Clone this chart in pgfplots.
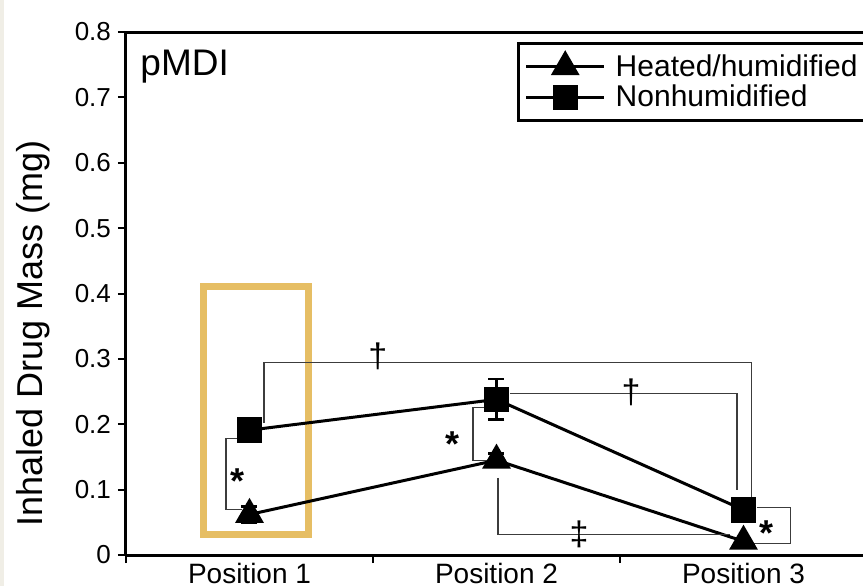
\documentclass[border=0pt]{standalone}
\usepackage{pgfplots}
\pgfplotsset{compat=1.18}
\usepackage{fontspec}
\setmainfont{Liberation Sans}

\definecolor{boxyellow}{RGB}{230,190,100}
\definecolor{annot}{RGB}{60,60,60}
\definecolor{strip}{RGB}{240,238,230}

\begin{document}
\begin{tikzpicture}
\begin{axis}[
  name=ax,
  scale only axis,
  width=370.5pt, height=261.5pt,
  xmin=0.5, xmax=3.5, ymin=0, ymax=0.8,
  axis x line=bottom, axis y line=left,
  axis line style={line width=1.5pt,-},
  clip=false,
  xtick={0.5,1.5,2.5,3.5},
  xticklabels={Position 1,Position 2,Position 3},
  x tick label as interval,
  ytick={0,0.1,0.2,0.3,0.4,0.5,0.6,0.7,0.8},
  yticklabel style={/pgf/number format/fixed,/pgf/number format/precision=1},
  /pgf/number format/assume math mode=true,
  tick align=outside,
  major tick length=4pt,
  tick style={line width=1pt,black},
  ticklabel style={font=\fontsize{13}{15}\selectfont},
  xticklabel style={font=\fontsize{14}{16}\selectfont,yshift=3.5pt},
  ylabel={Inhaled Drug Mass (mg)},
  ylabel style={at={(axis description cs:-0.125,0.424)},anchor=center,
    font=\fontsize{18}{20}\selectfont},
  legend style={at={(rel axis cs:0.528,0.981)},anchor=north west,
    draw=black,line width=1.5pt,font=\fontsize{15}{16}\selectfont,
    inner xsep=3pt,inner ysep=3.5pt,row sep=-1pt},
  legend cell align=left,
  legend image code/.code={
    \draw[mark repeat=2,mark phase=2,#1] plot coordinates {(0pt,0pt) (19.5pt,0pt) (39pt,0pt)};},
]

% highlight box
\draw[boxyellow,line width=3.5pt] (axis cs:0.814,0.031) rectangle (axis cs:1.239,0.411);

\addplot[black,line width=1.5pt,mark=triangle*,mark size=6.8pt,mark options={solid},
  error bars/.cd,y dir=both,y explicit,
  error bar style={line width=1.2pt},
  error mark options={rotate=90,mark size=4pt,line width=1.2pt}]
  coordinates {(1,0.062) +- (0,0.012) (2,0.145) +- (0,0.01) (3,0.021) +- (0,0.004)};
\addlegendentry{\hspace{3pt}Heated/humidified}

\addplot[black,line width=1.5pt,mark=square*,mark size=5.6pt,mark options={solid},
  error bars/.cd,y dir=both,y explicit,
  error bar style={line width=1.2pt},
  error mark options={rotate=90,mark size=4pt,line width=1.2pt}]
  coordinates {(1,0.191) +- (0,0.008) (2,0.238) +- (0,0.031) (3,0.069) +- (0,0.005)};
\addlegendentry{\hspace{3pt}Nonhumidified}

% significance brackets
\draw[annot,line width=0.6pt] (axis cs:0.96,0.178) -- (axis cs:0.905,0.178) -- (axis cs:0.905,0.069) -- (axis cs:0.97,0.069);
\draw[annot,line width=0.6pt] (axis cs:1.059,0.202) -- (axis cs:1.059,0.295) -- (axis cs:3.034,0.295) -- (axis cs:3.034,0.089);
\draw[annot,line width=0.6pt] (axis cs:2.055,0.247) -- (axis cs:2.974,0.247) -- (axis cs:2.974,0.099);
\draw[annot,line width=0.6pt] (axis cs:1.974,0.226) -- (axis cs:1.905,0.226) -- (axis cs:1.905,0.145) -- (axis cs:1.98,0.145);
\draw[annot,line width=0.6pt] (axis cs:2.006,0.118) -- (axis cs:2.006,0.031) -- (axis cs:2.945,0.031);
\draw[annot,line width=0.6pt] (axis cs:3.055,0.073) -- (axis cs:3.189,0.073) -- (axis cs:3.189,0.018) -- (axis cs:3.04,0.018);

\node[font=\fontsize{18}{20}\selectfont\bfseries,yshift=-4pt] at (axis cs:0.953,0.125) {*};
\node[font=\fontsize{18}{20}\selectfont\bfseries,yshift=-4pt] at (axis cs:1.82,0.182) {*};
\node[font=\fontsize{18}{20}\selectfont\bfseries,yshift=-4pt] at (axis cs:3.095,0.046) {*};
\node[font=\fontsize{17}{19}\selectfont] at (axis cs:1.52,0.304) {†};
\node[font=\fontsize{17}{19}\selectfont] at (axis cs:2.545,0.249) {†};
\node[font=\fontsize{17}{19}\selectfont] at (axis cs:2.334,0.031) {‡};

\node[anchor=base west,inner sep=0pt,font=\fontsize{18.5}{21}\selectfont] at (rel axis cs:0.019,0.916) {pMDI};

% top frame line
\draw[line width=1.5pt] (rel axis cs:0,1) -- (rel axis cs:1,1);
\end{axis}
\fill[strip] ([shift={(-63pt,-15.5pt)}]ax.south west) rectangle ++(2pt,293pt);
\pgfresetboundingbox
\path[use as bounding box] ([shift={(-63pt,-15.5pt)}]ax.south west) rectangle ++(431.5pt,293pt);
\end{tikzpicture}
\end{document}
